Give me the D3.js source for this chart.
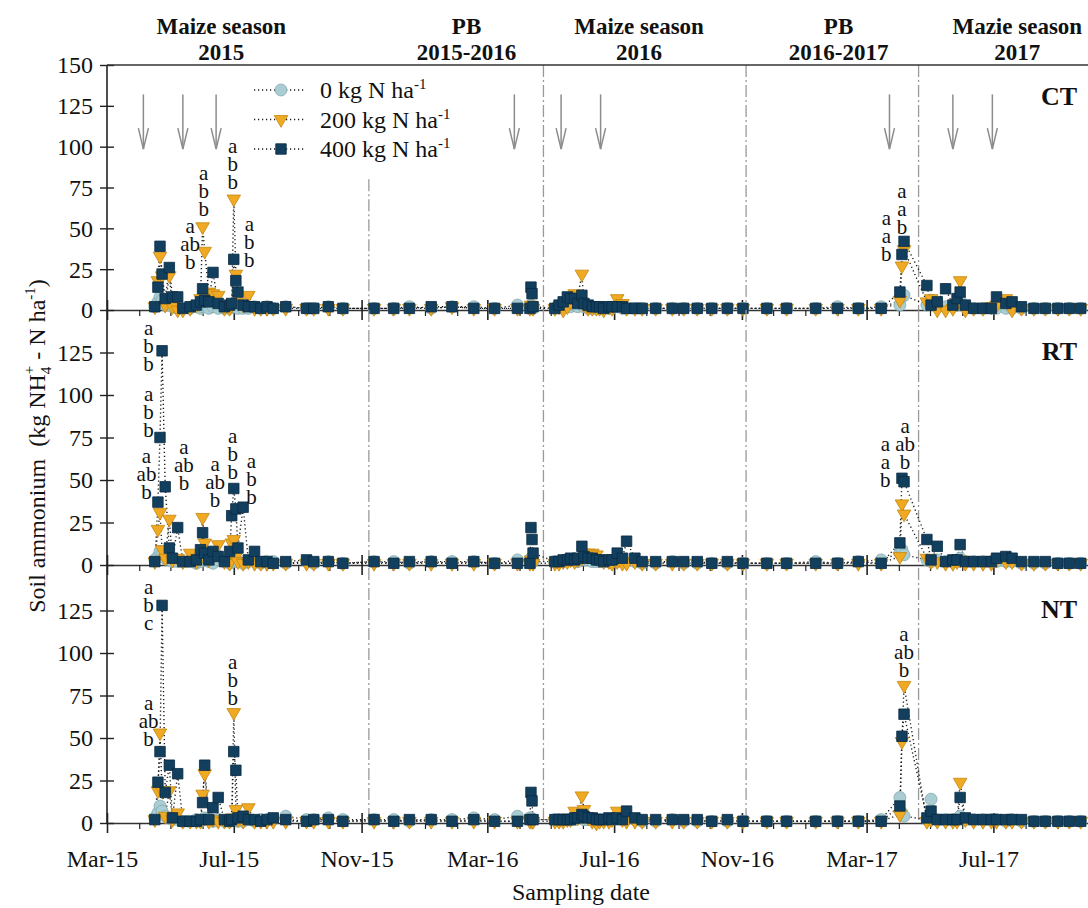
<!DOCTYPE html>
<html>
<head>
<meta charset="utf-8">
<script src="https://cdn.jsdelivr.net/npm/d3@7"></script>
<style>
  html, body { margin: 0; padding: 0; background: #fff; }
  svg { display: block; }
  svg text { font-family: "Liberation Serif", "DejaVu Serif", serif; }
</style>
</head>
<body>
<svg id="chart" width="1088" height="908" font-family="Liberation Serif, DejaVu Serif, serif"></svg>
<script>
// sampling dates, shared by all tillage panels
const sampleDates = [
  // maize season 2015
  "2015-04-16","2015-04-19","2015-04-21","2015-04-23","2015-04-26","2015-04-30","2015-05-03","2015-05-08","2015-05-13","2015-05-20",
  "2015-05-26","2015-05-30","2015-06-01","2015-06-03","2015-06-07","2015-06-11","2015-06-16","2015-06-22","2015-06-27","2015-06-29",
  "2015-07-01","2015-07-03","2015-07-05","2015-07-10","2015-07-15","2015-07-21","2015-07-27","2015-08-02","2015-08-08","2015-08-20",
  "2015-09-09","2015-09-16","2015-09-30","2015-10-14",
  // PB 2015-2016
  "2015-11-13","2015-12-02","2015-12-17","2016-01-07","2016-01-27","2016-02-17","2016-03-08","2016-03-30","2016-04-11","2016-04-12",
  "2016-04-13","2016-04-14",
  // maize season 2016
  "2016-05-05","2016-05-09","2016-05-13","2016-05-17","2016-05-20","2016-05-24","2016-05-27","2016-05-31","2016-06-02","2016-06-06",
  "2016-06-10","2016-06-14","2016-06-17","2016-06-21","2016-06-26","2016-06-29","2016-07-04","2016-07-09","2016-07-13","2016-07-21",
  "2016-07-28","2016-08-10","2016-08-26","2016-09-06","2016-09-19","2016-10-03","2016-10-18","2016-11-02",
  // PB 2016-2017
  "2016-11-25","2016-12-14","2017-01-11","2017-02-01","2017-02-21","2017-03-15","2017-04-02","2017-04-04","2017-04-06",
  // maize season 2017
  "2017-04-28","2017-05-02","2017-05-08","2017-05-16","2017-05-23","2017-05-27","2017-05-30","2017-06-04","2017-06-12","2017-06-21",
  "2017-06-29","2017-07-04","2017-07-13","2017-07-19","2017-07-28","2017-08-09","2017-08-20","2017-09-01","2017-09-12","2017-09-23"
];

// CT
const ctN0 = [
  2,5,8,6,3,3,2,1,1,1, 2,1,2,3,1,2,1,1,1,2, 3,2,1,1,1,2,1,2,1,2, 1,1,2,1,
  1,1,2,1,2,2,1,3,1,3,2,1,
  1,2,2,3,2,3,2,4,2,1, 1,1,1,1,1,1,2,1,1,1, 1,1,1,1,1,1,1,1,
  1,1,1,2,1,2,3,8,9,
  3,6,2,2,2,3,6,2,1,1, 1,1,1,1,1,1,1,1,1,1
];
const ctN200 = [
  2,18,33,21,3,21,2,0,0,1, 3,7,51,36,11,10,9,1,1,3, 68,22,5,3,9,1,1,1,1,1, 1,1,1,1,
  1,1,1,1,2,1,1,1,1,3,2,1,
  1,2,0,2,5,10,8,22,3,1, 1,1,1,0,2,1,7,4,1,1, 1,1,1,1,1,1,1,1,
  1,1,1,1,1,1,6,27,37,
  5,7,0,0,1,4,18,0,1,1, 2,3,7,0,1,1,1,1,1,1
];
const ctN400 = [
  2,14,39,22,7,26,8,8,1,2, 3,5,13,6,5,23,4,2,3,4, 31,18,11,3,2,2,1,2,1,2, 1,1,2,1,
  1,1,1,2,2,1,1,1,1,14,10,2,
  1,3,5,8,7,7,4,9,4,3, 2,2,2,1,2,2,2,2,1,1, 1,1,1,1,1,1,1,1,
  1,1,1,1,1,1,11,34,42,
  15,3,5,13,3,7,11,3,1,1, 1,8,4,5,2,1,1,1,1,1
];

// RT
const rtN0 = [
  3,5,8,7,4,3,2,2,2,2, 1,2,4,3,2,1,3,2,1,4, 2,3,2,1,2,2,1,2,2,1, 2,1,2,1,
  2,2,1,2,2,2,1,3,2,4,3,2,
  2,2,2,3,3,3,2,4,3,3, 2,2,2,2,2,2,2,2,3,2, 1,1,2,1,1,1,1,1,
  1,1,2,1,2,3,7,9,6,
  3,2,3,2,2,2,4,2,2,2, 2,2,2,2,1,1,1,1,1,1
];
const rtN200 = [
  2,21,31,9,4,27,3,4,2,7, 2,4,28,13,3,5,12,2,1,13, 15,5,2,1,2,1,1,1,1,1, 1,1,1,1,
  1,1,1,1,1,1,1,1,1,3,2,1,
  1,1,2,2,3,2,3,4,7,7, 7,6,3,2,2,1,2,1,1,2, 1,1,1,1,1,1,1,1,
  1,1,1,1,1,1,5,36,30,
  4,2,2,1,1,2,3,1,1,1, 1,3,2,2,1,1,1,1,1,1
];
const rtN400 = [
  2,37,75,126,46,10,4,22,2,2, 3,9,19,7,3,8,5,2,8,29, 45,33,10,34,3,8,2,2,1,2, 3,2,2,1,
  2,1,2,2,1,2,1,1,1,22,15,7,
  2,2,3,3,4,3,4,11,5,4, 4,3,3,2,3,3,7,4,14,4, 2,2,2,2,2,1,2,1,
  1,1,1,1,2,1,13,51,49,
  15,3,11,2,3,3,12,2,2,2, 2,4,5,4,2,2,2,1,1,1
];

// NT
const ntN0 = [
  3,6,10,7,4,3,2,2,1,1, 2,1,2,3,2,1,2,1,1,2, 2,3,1,1,2,1,2,2,2,4, 2,2,3,2,
  2,2,1,2,2,3,2,4,3,3,2,2,
  2,2,2,2,2,2,3,3,2,2, 2,2,2,2,2,2,3,2,2,2, 1,1,2,1,1,1,1,1,
  1,1,1,1,1,2,15,6,4,
  2,14,2,2,2,2,4,2,2,2, 2,2,1,2,1,1,1,1,1,1
];
const ntN200 = [
  2,19,53,19,4,19,2,6,1,1, 1,1,17,29,1,2,1,1,1,3, 65,8,2,1,9,1,1,1,1,1, 1,1,1,1,
  1,1,1,1,1,1,1,1,1,2,1,1,
  1,1,1,2,2,7,3,16,8,3, 1,0,1,1,1,2,7,2,1,1, 1,1,1,1,1,1,1,1,
  1,1,1,1,1,1,5,48,81,
  1,2,1,1,1,1,24,2,1,1, 1,1,1,1,1,1,1,1,1,1
];
const ntN400 = [
  2,24,42,128,18,34,3,29,1,1, 1,2,12,34,2,9,15,2,1,2, 42,31,3,4,2,2,1,2,3,2, 1,2,2,1,
  2,1,2,2,1,2,1,1,2,18,13,2,
  2,2,2,2,2,3,3,5,4,3, 3,2,2,2,3,2,3,2,7,3, 2,2,2,2,2,1,2,1,
  1,1,1,1,1,1,10,51,64,
  3,7,2,2,2,2,15,3,2,2, 2,2,2,2,2,1,1,1,1,1
];

// significance letters: date, value of the top letter, letters from top to bottom
const ctLetters = [
  { date: "2015-05-20", top: 51, text: ["a", "ab", "b"] },
  { date: "2015-06-02", top: 83, text: ["a", "b", "b"] },
  { date: "2015-06-30", top: 100, text: ["a", "b", "b"] },
  { date: "2015-07-16", top: 52, text: ["a", "b", "b"] },
  { date: "2017-03-20", top: 56, text: ["a", "a", "b"] },
  { date: "2017-04-04", top: 72.5, text: ["a", "a", "b"] }
];
const rtLetters = [
  { date: "2015-04-10", top: 138.6, text: ["a", "b", "b"] },
  { date: "2015-04-10", top: 100, text: ["a", "b", "b"] },
  { date: "2015-04-08", top: 63.7, text: ["a", "ab", "b"] },
  { date: "2015-05-14", top: 68.6, text: ["a", "ab", "b"] },
  { date: "2015-06-13", top: 58.8, text: ["a", "ab", "b"] },
  { date: "2015-06-30", top: 75.5, text: ["a", "b", "b"] },
  { date: "2015-07-18", top: 60.8, text: ["a", "b", "b"] },
  { date: "2017-03-19", top: 70.6, text: ["a", "a", "b"] },
  { date: "2017-04-07", top: 81.4, text: ["a", "ab", "b"] }
];
const ntLetters = [
  { date: "2015-04-10", top: 138, text: ["a", "b", "c"] },
  { date: "2015-04-10", top: 70, text: ["a", "ab", "b"] },
  { date: "2015-06-30", top: 94, text: ["a", "b", "b"] },
  { date: "2017-04-06", top: 110.6, text: ["a", "ab", "b"] }
];

// fertilization arrows, season boundaries and season headers
const arrowDates = ["2015-04-05", "2015-05-13", "2015-06-14", "2016-03-27", "2016-05-11", "2016-06-18", "2017-03-23", "2017-05-23", "2017-06-30"];
const seasonBreaks = ["2015-11-08", "2016-04-24", "2016-11-05", "2017-04-20"];
const seasonNames = [
  { date: "2015-06-19", lines: ["Maize season", "2015"] },
  { date: "2016-02-10", lines: ["PB", "2015-2016"] },
  { date: "2016-07-25", lines: ["Maize season", "2016"] },
  { date: "2017-02-02", lines: ["PB", "2016-2017"] },
  { date: "2017-07-24", lines: ["Mazie season", "2017"] }
];
const treatmentNames = ["0", "200", "400"];
const yTicksTop = [0, 25, 50, 75, 100, 125, 150];
const yTicks = [0, 25, 50, 75, 100, 125];

const parse = d3.utcParse("%Y-%m-%d");
const dates = sampleDates.map(parse);
const svg = d3.select("#chart");
const black = "#111";
const serif = "Liberation Serif, DejaVu Serif, serif";

const x = d3.scaleUtc()
  .domain([new Date(Date.UTC(2015, 2, 1)), new Date(Date.UTC(2017, 9, 1))])
  .range([107, 1089]);

const months = d3.utcMonth.range(new Date(Date.UTC(2015, 2, 1)), new Date(Date.UTC(2017, 9, 1)));
const isMajor = (d) => d.getUTCMonth() % 4 === 2;
const monthFmt = d3.utcFormat("%b-%y");

const panels = [
  { name: "CT", series: [ctN0, ctN200, ctN400], letters: ctLetters, y: d3.scaleLinear().domain([0, 150]).range([310, 65]), ticks: yTicksTop, nameY: 105 },
  { name: "RT", series: [rtN0, rtN200, rtN400], letters: rtLetters, y: d3.scaleLinear().domain([0, 150]).range([565, 310]), ticks: yTicks, nameY: 360 },
  { name: "NT", series: [ntN0, ntN200, ntN400], letters: ntLetters, y: d3.scaleLinear().domain([0, 150]).range([823, 568]), ticks: yTicks, nameY: 618 }
];

const styles = [
  { type: d3.symbolCircle, size: 113, fill: "#a9cdd2", stroke: "#84aab0", rot: 0 },
  { type: d3.symbolTriangle, size: 80, fill: "#f0a922", stroke: "#c4860f", rot: 180 },
  { type: d3.symbolSquare, size: 110, fill: "#123f5e", stroke: "#0a2b42", rot: 0 }
];

function marker(sel, st) {
  sel.attr("d", d3.symbol().type(st.type).size(st.size)())
    .attr("fill", st.fill)
    .attr("stroke", st.stroke)
    .attr("stroke-width", 0.8);
}

panels.forEach((p, pi) => {
  const y = p.y;
  const g = svg.append("g");
  const last = pi === panels.length - 1;

  // season boundary lines
  g.selectAll(".brk")
    .data(seasonBreaks.map(parse))
    .enter()
    .append("line")
    .attr("x1", (d) => x(d))
    .attr("x2", (d) => x(d))
    .attr("y1", (d, i) => y(pi === 0 && i === 0 ? 80 : 150))
    .attr("y2", y(0))
    .attr("stroke", "#9a9a9a")
    .attr("stroke-width", 1.3)
    .attr("stroke-dasharray", "12,3,2,3");

  // x axis at the panel bottom
  const xa = g.append("g")
    .attr("transform", `translate(0,${y(0)})`)
    .call(d3.axisBottom(x).tickValues(months).tickSize(6).tickSizeOuter(0)
      .tickFormat((d) => (last && isMajor(d) ? monthFmt(d) : "")));
  xa.attr("font-size", 24).attr("font-family", serif);
  xa.select(".domain").attr("stroke", "#333").attr("stroke-width", 1.3);
  xa.selectAll(".tick line")
    .attr("y1", (d) => (isMajor(d) ? -10 : 0))
    .attr("y2", (d) => (isMajor(d) ? 10 : 6))
    .attr("stroke", "#222")
    .attr("stroke-width", (d) => (isMajor(d) ? 1.6 : 1.2));
  xa.selectAll(".tick text").attr("y", 44).attr("dy", 0).attr("dx", -5).attr("fill", black);

  // y axis ticks
  const ya = g.append("g")
    .attr("transform", "translate(107,0)")
    .call(d3.axisLeft(y).tickValues(p.ticks).tickSize(7).tickPadding(7));
  ya.attr("font-size", 24).attr("font-family", serif);
  ya.select(".domain").remove();
  ya.selectAll(".tick line").attr("x1", 7).attr("stroke", "#222").attr("stroke-width", 1.4);
  ya.selectAll(".tick text").attr("fill", black).attr("dy", "0.33em");

  // dotted lines
  const line = d3.line().x((d) => x(d.date)).y((d) => y(d.value));
  const pts = p.series.map((vals) => vals.map((v, i) => ({ date: dates[i], value: v })).filter((d) => d.date));
  pts.forEach((s) => {
    g.append("path")
      .attr("d", line(s))
      .attr("fill", "none")
      .attr("stroke", "#1a1a1a")
      .attr("stroke-width", 1.4)
      .attr("stroke-dasharray", "1.2,2.8");
  });

  // markers
  pts.forEach((s, si) => {
    const st = styles[si];
    g.append("g")
      .selectAll("path")
      .data(s)
      .enter()
      .append("path")
      .attr("transform", (d) => `translate(${x(d.date)},${y(d.value)}) rotate(${st.rot})`)
      .call(marker, st);
  });

  // significance letters
  p.letters.forEach((l) => {
    g.append("g")
      .selectAll("text")
      .data(l.text)
      .enter()
      .append("text")
      .attr("x", x(parse(l.date)))
      .attr("y", (d, i) => y(l.top) + i * 18 + 6)
      .attr("text-anchor", "middle")
      .attr("font-family", serif)
      .attr("font-size", 21)
      .attr("fill", black)
      .text((d) => d);
  });

  // fertilization arrows
  if (pi === 0) {
    const ag = g.append("g").attr("stroke", "#8c8c8c").attr("stroke-width", 1.5).attr("fill", "none");
    arrowDates.map(parse).forEach((d) => {
      const ax = x(d), top = y(132), tip = y(98.5);
      ag.append("line").attr("x1", ax).attr("x2", ax).attr("y1", top).attr("y2", tip);
      ag.append("polyline").attr("points", `${ax - 5},${tip - 21} ${ax},${tip} ${ax + 5},${tip - 21}`);
    });
  }

  // panel name
  g.append("text")
    .attr("x", 1077)
    .attr("y", p.nameY)
    .attr("text-anchor", "end")
    .attr("font-family", serif)
    .attr("font-size", 26)
    .attr("font-weight", "bold")
    .attr("fill", black)
    .text(p.name);
});

// frame: left axis and top border
svg.append("line").attr("x1", 107).attr("x2", 107).attr("y1", 65).attr("y2", 823).attr("stroke", "#222").attr("stroke-width", 1.6);
svg.append("line").attr("x1", 107).attr("x2", 1088).attr("y1", 65).attr("y2", 65).attr("stroke", "#333").attr("stroke-width", 1.6);

// season headers
seasonNames.forEach((s) => {
  const t = svg.append("text")
    .attr("text-anchor", "middle")
    .attr("font-family", serif)
    .attr("font-size", 23)
    .attr("font-weight", "bold")
    .attr("fill", black);
  s.lines.forEach((ln, i) => {
    t.append("tspan").attr("x", x(parse(s.date))).attr("y", 34 + i * 26).text(ln);
  });
});

// legend
const lg = svg.append("g");
treatmentNames.forEach((n, i) => {
  const ly = 90 + i * 29.5;
  lg.append("line")
    .attr("x1", 254).attr("x2", 306).attr("y1", ly).attr("y2", ly)
    .attr("stroke", "#1a1a1a").attr("stroke-width", 1.4).attr("stroke-dasharray", "1.2,2.8");
  lg.append("path")
    .attr("transform", `translate(281,${ly}) rotate(${styles[i].rot})`)
    .call(marker, styles[i]);
  const t = lg.append("text").attr("x", 320).attr("y", ly + 8).attr("font-family", serif).attr("font-size", 24).attr("fill", black);
  t.append("tspan").text(`${n} kg N ha`);
  t.append("tspan").attr("font-size", 15).attr("dy", -9).text("-1");
});

// axis titles
svg.append("text")
  .attr("x", 581)
  .attr("y", 900)
  .attr("text-anchor", "middle")
  .attr("font-family", serif)
  .attr("font-size", 24)
  .attr("fill", black)
  .text("Sampling date");

const yt = svg.append("text")
  .attr("transform", "translate(45,446) rotate(-90)")
  .attr("text-anchor", "middle")
  .attr("font-family", serif)
  .attr("font-size", 24)
  .attr("fill", black);
yt.append("tspan").text("Soil ammonium\u00a0\u00a0(kg NH");
yt.append("tspan").attr("font-size", 15).attr("dy", 6).text("4");
yt.append("tspan").attr("font-size", 15).attr("dx", -7.5).attr("dy", -17).text("+");
yt.append("tspan").attr("dy", 11).text(" - N ha");
yt.append("tspan").attr("font-size", 15).attr("dy", -10).text("-1");
yt.append("tspan").attr("dy", 10).text(")");
</script>
</body>
</html>
